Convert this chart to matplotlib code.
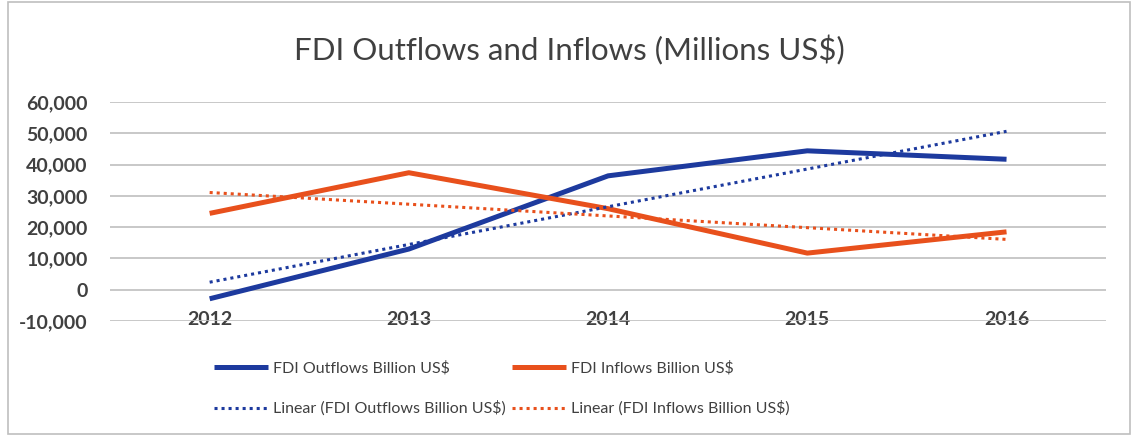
import numpy as np
import matplotlib
matplotlib.use("Agg")
import matplotlib.pyplot as plt
from matplotlib.patches import Rectangle
from matplotlib.ticker import FuncFormatter

plt.rcParams['font.family'] = ['Lato', 'DejaVu Sans']

years = ["2012", "2013", "2014", "2015", "2016"]
outflows = [-2900, 13000, 36400, 44400, 41700]
inflows = [24400, 37400, 25900, 11700, 18500]

blue = "#1d3a9e"
orange = "#e8501c"

x = np.arange(len(years))

fig = plt.figure(figsize=(11.38, 4.36), dpi=100)
fig.patches.append(Rectangle((0.007, 0.005), 0.986, 0.99, transform=fig.transFigure,
                             fill=False, edgecolor="#bfbfbf", lw=1.2))

ax = fig.add_axes([0.0967, 0.2638, 0.8753, 0.5022])

l1, = ax.plot(x, outflows, color=blue, lw=3.6, solid_capstyle="butt",
              label="FDI Outflows Billion US$")
l2, = ax.plot(x, inflows, color=orange, lw=3.6, solid_capstyle="butt",
              label="FDI Inflows Billion US$")

# linear trendlines like Excel
p_out = np.polyfit(x, outflows, 1)
p_in = np.polyfit(x, inflows, 1)
l3, = ax.plot(x, np.polyval(p_out, x), color=blue, lw=2.2, ls=(0, (1, 1.3)),
              label="Linear (FDI Outflows Billion US$)")
l4, = ax.plot(x, np.polyval(p_in, x), color=orange, lw=2.2, ls=(0, (1, 1.3)),
              label="Linear (FDI Inflows Billion US$)")

ax.set_xlim(-0.5, len(years) - 0.5)
ax.set_ylim(-10000, 60000)
ax.set_yticks(np.arange(-10000, 60001, 10000))
ax.yaxis.set_major_formatter(FuncFormatter(lambda v, p: f"{int(v):,}"))
ax.set_xticks(x)
ax.set_xticklabels(years)
ax.grid(axis="y", color="#bfbfbf", lw=1.2)
ax.set_axisbelow(True)
for s in ax.spines.values():
    s.set_visible(False)
ax.tick_params(axis="y", length=0, pad=16, labelsize=14, labelcolor="#404040")
ax.tick_params(axis="x", length=0, pad=-7, labelsize=14, labelcolor="#404040")
for t in ax.get_xticklabels() + ax.get_yticklabels():
    t.set_fontweight("bold")

fig.text(0.5, 0.885, "FDI Outflows and Inflows (Millions US$)", ha="center", va="center",
         fontsize=22.5, color="#404040")

fig.legend(handles=[l1, l3, l2, l4], ncol=2, loc="center left",
           bbox_to_anchor=(0.175, 0.109), frameon=False, fontsize=11.5,
           handlelength=3.4, handletextpad=0.3, columnspacing=0.4, labelspacing=1.6,
           labelcolor="#404040")

fig.savefig("out.png", dpi=100)
